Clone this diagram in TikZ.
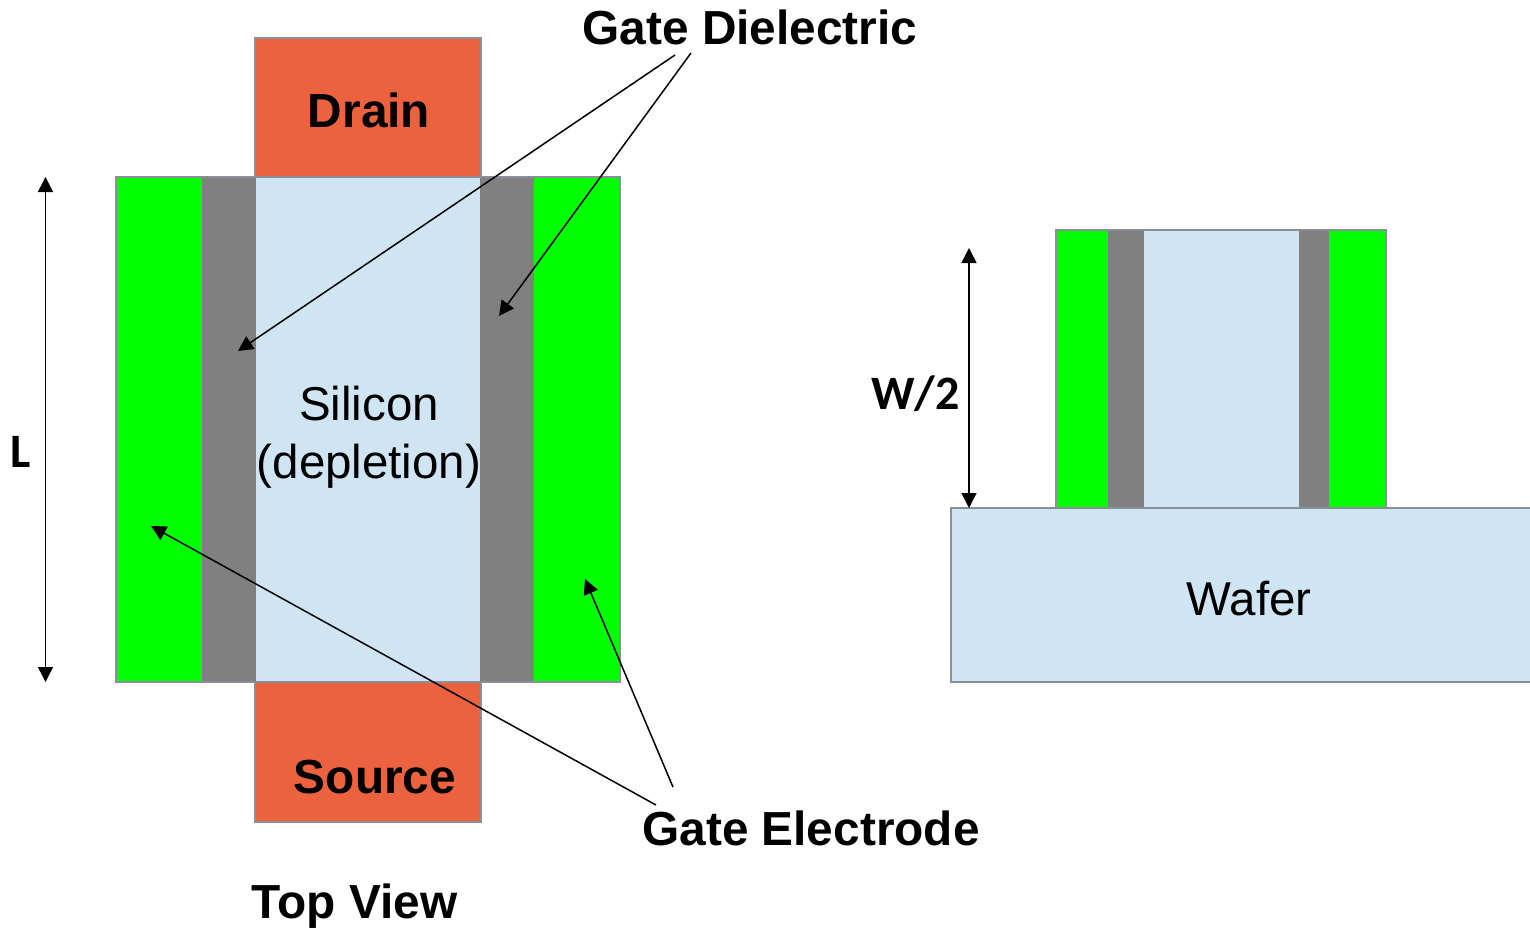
\documentclass[tikz,border=0pt]{standalone}
\usepackage{fontspec}
\setmainfont{Liberation Sans}
\newfontfamily\calib{Carlito}
\usetikzlibrary{arrows.meta}
\definecolor{si}{HTML}{CFE5F4}
\definecolor{met}{HTML}{EC623F}
\definecolor{grn}{HTML}{00FF00}
\definecolor{gry}{HTML}{808080}
\definecolor{edge}{HTML}{8A8F96}
\tikzset{x=1pt,y=-1pt,
 outl/.style={draw=edge,line width=1.3pt},
 arr/.style={-{Triangle[length=15pt,width=15pt]},line width=1.5pt,black},
 darr/.style={{Triangle[length=15pt,width=15pt]}-{Triangle[length=15pt,width=15pt]},line width=1.5pt,black},
 big/.style={font=\fontsize{47.5}{57.5}\selectfont,inner sep=0},
 bold/.style={font=\fontsize{47.8}{57}\selectfont\bfseries,inner sep=0},
 cal/.style={font=\fontsize{48}{57}\selectfont\calib\bfseries,inner sep=0}}
\begin{document}
\begin{tikzpicture}
\useasboundingbox (0,0) rectangle (1530,931);
% top view
\fill[met] (255,38) rectangle (481,177);
\draw[outl] (255,177) |- (481,38) -- (481,177);
\fill[met] (255,682) rectangle (481,822);
\draw[outl] (255,682) |- (481,822) -- (481,682);
\fill[grn] (116,177) rectangle (202,682);
\fill[gry] (202,177) rectangle (256,682);
\fill[si] (256,177) rectangle (480,682);
\fill[gry] (480,177) rectangle (534,682);
\fill[grn] (534,177) rectangle (620,682);
\draw[outl] (116,177) rectangle (620,682);
\draw[outl] (255,177) -- (481,177) (255,682) -- (481,682);
% side view
\fill[grn] (1056,230) rectangle (1108,508);
\fill[gry] (1108,230) rectangle (1144,508);
\fill[si] (1144,230) rectangle (1299,508);
\fill[gry] (1299,230) rectangle (1329,508);
\fill[grn] (1329,230) rectangle (1386,508);
\draw[outl] (1056,508) |- (1386,230) -- (1386,508);
\fill[si] (951,508) rectangle (1530,682);
\draw[outl] (1532,508) -- (951,508) |- (1532,682);
% labels
\node[bold] (drain) at (369,110) {Drain};
\node[bold] (source) at (375,777) {Source};
\node[big,align=center] (silicon) at (369,437) {Silicon\\(depletion)};
\node[big] (wafer) at (1249,599) {Wafer};
\node[bold] (gd) at (750,27) {Gate Dielectric};
\node[bold] (ge) at (811,828) {Gate Electrode};
\node[bold] (top) at (354.5,906.5) {Top View};
\node[cal] (l) at (21,451.5) {L};
\node[cal] (w) at (915.5,393.5) {W/2};
% arrows
\coordinate (gd1) at (675,55); \coordinate (gd2) at (691,53);
\coordinate (t1) at (238,351); \coordinate (t2) at (499,316);
\coordinate (ge1) at (656,805); \coordinate (ge2) at (673,787);
\coordinate (t3) at (151,526); \coordinate (t4) at (585,579);
\draw[arr] (gd1) -- (t1);
\draw[arr] (gd2) -- (t2);
\draw[arr] (ge1) -- (t3);
\draw[arr] (ge2) -- (t4);
\coordinate (la) at (45.5,177); \coordinate (lb) at (45.5,682);
\coordinate (wa) at (969,248); \coordinate (wb) at (969,508);
\draw[darr] (la) -- (lb);
\draw[darr] (wa) -- (wb);
\end{tikzpicture}
\end{document}
